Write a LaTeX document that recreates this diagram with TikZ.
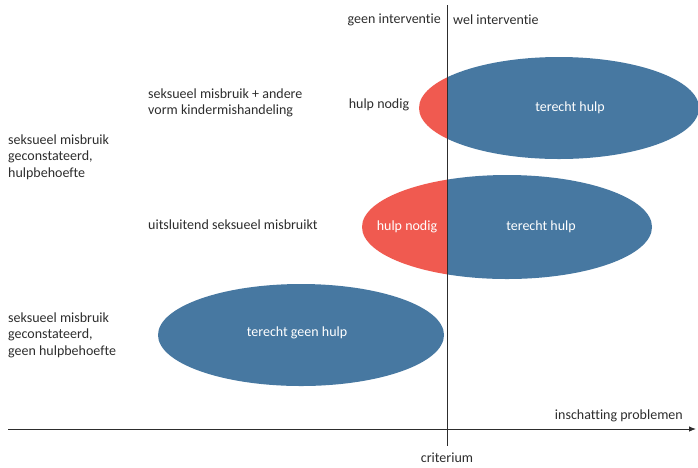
\documentclass[tikz,border=0pt]{standalone}
\usepackage{fontspec}
\setmainfont{Carlito}[Ligatures=NoCommon]
\usetikzlibrary{arrows.meta, positioning}
\definecolor{steelblue}{RGB}{71, 120, 161}
\definecolor{coralred}{RGB}{240, 90, 80}
\definecolor{inkgray}{RGB}{45, 45, 45}

\begin{document}
\begin{tikzpicture}[x=1pt, y=-1pt,
        lbl/.style={font=\fontsize{14}{16.6}\selectfont, inner sep=0pt, text=inkgray},
        side/.style={lbl, anchor=west, align=left},
        inlbl/.style={lbl, text=white},
        axis/.style={-{Latex[length=7pt, width=5.5pt]}, line width=0.9pt, draw=inkgray},
        crit/.style={line width=0.9pt, draw=inkgray}
    ]
        \useasboundingbox (0,0) rectangle (698,467);

        % Ellipses: red part left of the criterion, blue part right of it
        \begin{scope}
            \clip (0,0) rectangle (447,467);
            \fill[coralred] (559,108) ellipse [x radius=140, y radius=51];
            \fill[coralred] (507,227) ellipse [x radius=145, y radius=52];
        \end{scope}
        \begin{scope}
            \clip (447,0) rectangle (698,467);
            \fill[steelblue] (559,108) ellipse [x radius=140, y radius=51];
            \fill[steelblue] (507,227) ellipse [x radius=145, y radius=52];
        \end{scope}
        \fill[steelblue] (301,335) ellipse [x radius=143, y radius=51];

        % Axis and criterion
        \coordinate (ax0) at (8,429);
        \coordinate (ax1) at (696,429);
        \coordinate (cr0) at (447,5);
        \coordinate (cr1) at (447,446);
        \draw [axis] (ax0) -- (ax1);
        \draw [crit] (cr0) -- (cr1);

        % Labels at the axes
        \node (geen) [lbl, anchor=east] at (441,20) {geen interventie};
        \node (wel) [lbl, anchor=west] at (453,20) {wel interventie};
        \node (inschat) [lbl, anchor=east] at (683,416) {inschatting problemen};
        \node (criterium) [lbl, text depth=0pt, anchor=base] at (447,462) {criterium};

        % Row labels
        \node (andere) [side] at (148,103) {seksueel misbruik + andere\\vorm kindermishandeling};
        \node (hulpbeh) [side] at (8,157) {seksueel misbruik\\geconstateerd,\\hulpbehoefte};
        \node (uitsl) [side] at (148,225) {uitsluitend seksueel misbruikt};
        \node (geenbeh) [side] at (8,335) {seksueel misbruik\\geconstateerd,\\geen hulpbehoefte};

        % Labels in and beside the ellipses
        \node (nodig1) [lbl] at (379,105) {hulp nodig};
        \node (terecht1) [inlbl] at (570,108) {terecht hulp};
        \node (nodig2) [inlbl] at (407,227) {hulp nodig};
        \node (terecht2) [inlbl] at (541,227) {terecht hulp};
        \node (geenhulp) [inlbl] at (297,333) {terecht geen hulp};
    \end{tikzpicture}
\end{document}
